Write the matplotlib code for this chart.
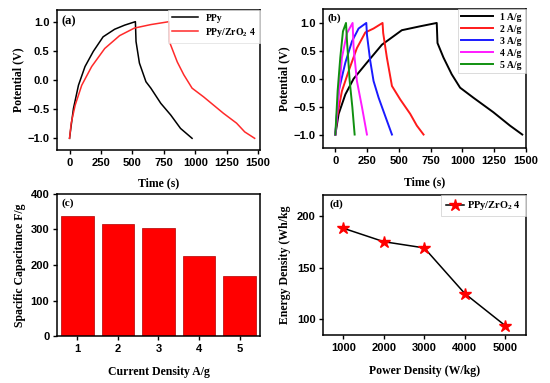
import matplotlib
matplotlib.use('Agg')
import matplotlib.pyplot as plt

plt.rcParams['font.family'] = ['Liberation Serif', 'DejaVu Serif']
plt.rcParams['font.weight'] = 'bold'
plt.rcParams['mathtext.fontset'] = 'custom'
plt.rcParams['mathtext.rm'] = 'Liberation Serif:bold'
plt.rcParams['mathtext.it'] = 'Liberation Serif:italic:bold'
plt.rcParams['mathtext.bf'] = 'Liberation Serif:bold'

## (a) GCD of PPy vs PPy/ZrO2 4
ppy_t = [0, 10, 31, 71, 123, 189, 267, 359, 438, 524, 529, 556, 608, 647, 726, 805, 883, 975]
ppy_v = [-1.0, -0.83, -0.49, -0.09, 0.23, 0.49, 0.74, 0.87, 0.94, 1.0, 0.66, 0.29, -0.03, -0.14, -0.40, -0.60, -0.83, -1.0]
comp_t = [0, 13, 45, 97, 176, 280, 398, 516, 647, 792, 794, 857, 909, 975, 1067, 1224, 1329, 1394, 1473]
comp_v = [-1.0, -0.74, -0.43, -0.09, 0.23, 0.54, 0.76, 0.89, 0.95, 1.0, 0.66, 0.31, 0.09, -0.14, -0.29, -0.57, -0.74, -0.89, -1.0]

## (b) GCD at different current densities
t_1 = [0, 26, 79, 144, 249, 367, 524, 668, 799, 805, 852, 917, 983, 1088, 1245, 1376, 1473]
v_1 = [-1.0, -0.63, -0.28, 0.0, 0.29, 0.61, 0.87, 0.94, 1.0, 0.64, 0.38, 0.08, -0.16, -0.34, -0.60, -0.84, -1.0]
t_2 = [0, 13, 52, 105, 170, 236, 301, 372, 377, 406, 446, 511, 590, 642, 695]
v_2 = [-1.0, -0.69, -0.22, 0.14, 0.55, 0.83, 0.90, 1.0, 0.82, 0.38, -0.13, -0.37, -0.63, -0.84, -1.0]
t_3 = [0, 26, 79, 131, 183, 244, 249, 275, 301, 341, 406, 446]
v_3 = [-1.0, -0.22, 0.29, 0.67, 0.90, 1.0, 0.79, 0.32, -0.04, -0.34, -0.75, -1.0]
t_4 = [0, 18, 52, 92, 136, 144, 170, 210, 249]
v_4 = [-1.0, -0.51, 0.38, 0.82, 1.0, 0.55, -0.04, -0.51, -1.0]
t_5 = [0, 18, 39, 60, 84, 92, 113, 134, 152]
v_5 = [-1.0, -0.22, 0.38, 0.85, 1.0, 0.67, -0.04, -0.51, -1.0]
b_labels = ['1 A/g', '2 A/g', '3 A/g', '4 A/g', '5 A/g']
b_colors = ['black', '#ff1a1a', '#1a1aff', '#ff1aff', '#109010']

## (c) specific capacitance
current_density = [1, 2, 3, 4, 5]
capacitance = [338, 315, 304, 226, 168]

## (d) Ragone plot
power_density = [1000, 2000, 3000, 4000, 5000]
energy_density = [188, 175, 169, 125, 94]

tick_font = {'family': 'Liberation Sans', 'weight': 'bold', 'size': 8}
lab_size = 8.5
panel_size = 8


def style_axes(ax):
    for sp in ax.spines.values():
        sp.set_linewidth(1.1)
    ax.tick_params(direction='out', length=3, width=1, top=False, right=False, pad=2.5)
    for lbl in ax.get_xticklabels() + ax.get_yticklabels():
        lbl.set_fontproperties(matplotlib.font_manager.FontProperties(**tick_font))


fig = plt.figure(figsize=(5.5, 3.83), dpi=100)
fig.patch.set_facecolor('white')

## (a)
ax1 = fig.add_axes([0.1036, 0.6084, 0.369, 0.3655])
ax1.plot(ppy_t, ppy_v, color='black', lw=1.1, label='PPy')
ax1.plot(comp_t, comp_v, color='#ff2a2a', lw=1.1, label='PPy/ZrO$_2$ 4')
ax1.set_xlim(-100, 1515)
ax1.set_ylim(-1.2, 1.2)
ax1.set_xticks([0, 250, 500, 750, 1000, 1250, 1500])
ax1.set_yticks([-1.0, -0.5, 0.0, 0.5, 1.0])
ax1.set_xlabel('Time (s)', fontsize=lab_size, fontweight='bold', labelpad=7)
ax1.set_ylabel('Potential (V)', fontsize=lab_size, fontweight='bold', labelpad=2)
ax1.text(0.02, 0.96, '(a)', transform=ax1.transAxes, fontsize=panel_size + 1, fontweight='bold', va='top')
leg = ax1.legend(loc='upper right', fontsize=7, frameon=True, borderaxespad=0, fancybox=False,
                 handlelength=2.6, labelspacing=0.3)
leg.get_frame().set_edgecolor('#dddddd')
leg.get_frame().set_linewidth(0.6)
style_axes(ax1)

## (b)
ax2 = fig.add_axes([0.5878, 0.6123, 0.368, 0.3642])
for t, v, lab, col in zip([t_1, t_2, t_3, t_4, t_5], [v_1, v_2, v_3, v_4, v_5], b_labels, b_colors):
    ax2.plot(t, v, color=col, lw=1.4, label=lab)
ax2.set_xlim(-95, 1500)
ax2.set_ylim(-1.25, 1.25)
ax2.set_xticks([0, 250, 500, 750, 1000, 1250, 1500])
ax2.set_yticks([-1.0, -0.5, 0.0, 0.5, 1.0])
ax2.set_xlabel('Time (s)', fontsize=lab_size, fontweight='bold', labelpad=7)
ax2.set_ylabel('Potential (V)', fontsize=lab_size, fontweight='bold', labelpad=2)
ax2.text(0.02, 0.97, '(b)', transform=ax2.transAxes, fontsize=panel_size, fontweight='bold', va='top')
leg = ax2.legend(loc='upper right', fontsize=7, frameon=True, borderaxespad=0, fancybox=False,
                 handlelength=3.2, labelspacing=0.3)
leg.get_frame().set_edgecolor('#cccccc')
leg.get_frame().set_linewidth(0.6)
style_axes(ax2)

## (c)
ax3 = fig.add_axes([0.1036, 0.1227, 0.369, 0.3708])
ax3.bar(current_density, capacitance, width=0.8, color='#ff0000', edgecolor='#b00000', linewidth=0.5)
ax3.set_xlim(0.5, 5.5)
ax3.set_ylim(0, 400)
ax3.set_xticks(current_density)
ax3.set_yticks([0, 100, 200, 300, 400])
ax3.set_xlabel('Current Density A/g', fontsize=lab_size, fontweight='bold', labelpad=9)
ax3.set_ylabel('Spacific Capacitance F/g', fontsize=lab_size, fontweight='bold', labelpad=3)
ax3.text(0.02, 0.97, '(c)', transform=ax3.transAxes, fontsize=panel_size, fontweight='bold', va='top')
style_axes(ax3)

## (d)
ax4 = fig.add_axes([0.5873, 0.1253, 0.3682, 0.3655])
ax4.plot(power_density, energy_density, color='black', lw=1.1, marker='*', markersize=9,
         markerfacecolor='#ff0000', markeredgecolor='#ff0000', label='PPy/ZrO$_2$ 4')
ax4.set_xlim(500, 5500)
ax4.set_ylim(85, 220)
ax4.set_xticks(power_density)
ax4.set_yticks([100, 150, 200])
ax4.set_xlabel('Power Density (W/kg)', fontsize=lab_size, fontweight='bold', labelpad=9)
ax4.set_ylabel('Energy Density (Wh/kg', fontsize=lab_size, fontweight='bold', labelpad=4)
ax4.text(0.03, 0.97, '(d)', transform=ax4.transAxes, fontsize=panel_size, fontweight='bold', va='top')
leg = ax4.legend(loc='upper right', fontsize=7.5, frameon=True, borderaxespad=0, fancybox=False,
                 handlelength=1.8, handletextpad=0.3)
leg.get_frame().set_edgecolor('#cccccc')
leg.get_frame().set_linewidth(0.6)
style_axes(ax4)

fig.savefig('out.png', dpi=100, facecolor='white')
